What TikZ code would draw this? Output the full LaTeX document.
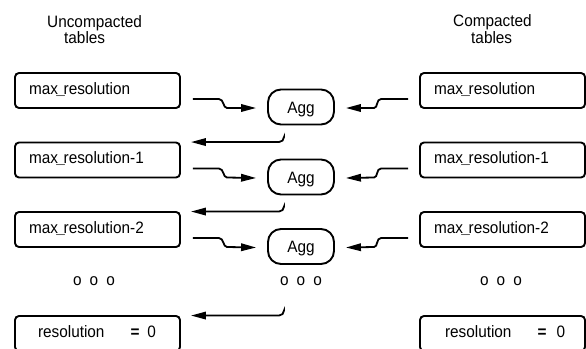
\documentclass[tikz,border=0pt]{standalone}
\usepackage{fontspec}
\setmainfont{Liberation Sans}[FakeStretch=0.93]
\usetikzlibrary{arrows.meta,calc}
\begin{document}
\begin{tikzpicture}[x=1pt,y=-1pt,
  every node/.style={font=\fontsize{16.5pt}{19pt}\selectfont},
  tbl/.style={draw, line width=1.9pt, rounded corners=4pt, minimum width=165pt, minimum height=35pt,
    text width=137pt, inner xsep=14pt, inner ysep=0pt, align=left, text height=12pt, text depth=5pt},
  agg/.style={draw, line width=1.9pt, rounded corners=13pt, minimum width=66pt, minimum height=35pt,
    inner sep=0pt, text height=12pt, text depth=0pt},
  arr/.style={line width=1.8pt, -{Triangle[length=15pt,width=7.5pt]}},
  hdr/.style={anchor=north west, inner sep=0pt, align=left,
    font=\fontsize{16.5pt}{14.7pt}\selectfont},
  lbl/.style={anchor=base, inner sep=0pt}]
\useasboundingbox (0,0) rectangle (586,348);

% headers
\node[hdr] (h1) at (47,15) {Uncompacted\\\hspace*{17pt}tables};
\node[hdr] (h2) at (453,14.5) {Compacted\\\hspace*{18pt}tables};

% left tables
\node[tbl] (L1) at (97.5,90.5) {max\kern-1.5pt\textbf{\_}\kern-1.5pt resolution};
\node[tbl] (L2) at (97.5,160) {max\kern-1.5pt\textbf{\_}\kern-1.5pt resolution-1};
\node[tbl] (L3) at (97.5,229.5) {max\kern-1.5pt\textbf{\_}\kern-1.5pt resolution-2};
\node[tbl] (L4) at (97.5,333.5) {\hspace*{9pt}resolution\hspace{26pt}\textbf{=}\hspace{8pt}0};

% right tables
\node[tbl] (R1) at (502.5,90.5) {max\kern-1.5pt\textbf{\_}\kern-1.5pt resolution};
\node[tbl] (R2) at (502.5,160) {max\kern-1.5pt\textbf{\_}\kern-1.5pt resolution-1};
\node[tbl] (R3) at (502.5,229.5) {max\kern-1.5pt\textbf{\_}\kern-1.5pt resolution-2};
\node[tbl] (R4) at (502.5,333.5) {\hspace*{11pt}resolution\hspace{26pt}\textbf{=}\hspace{10pt}0};

% aggregators
\node[agg] (A1) at (301,107) {Agg};
\node[agg] (A2) at (301,177) {Agg};
\node[agg] (A3) at (301,246.5) {Agg};

% dots
\node[lbl] (D1) at (94,285.5) {o\hspace{8pt}o\hspace{8pt}o};
\node[lbl] (D2) at (301,285.5) {o\hspace{8pt}o\hspace{8pt}o};
\node[lbl] (D3) at (501,285.5) {o\hspace{8pt}o\hspace{8pt}o};

% inputs from the tables
\foreach \i in {1,2,3}{
  \draw[arr] ($(L\i.east)+(12,8.5)$) -- ++(26,0)
     .. controls +(5,0) and +(-4,0) .. ++(8,9) -- ($(A\i.west)+(-11,1)$);
  \draw[arr] ($(R\i.west)+(-11,8.5)$) -- ++(-27,0)
     .. controls +(-5,0) and +(4,0) .. ++(-7,9) -- ($(A\i.east)+(11,1)$);
}

% outputs to the next level
\draw[arr, rounded corners=5pt] ($(A1.south)+(-17,12)$) |- ($(L2.north east)+(10,0.5)$);
\draw[arr, rounded corners=5pt] ($(A2.south)+(-17,12)$) |- ($(L3.north east)+(10,0.5)$);
\coordinate (r3) at (284,311);
\draw[arr, rounded corners=5pt] (r3) |- ($(L4.north east)+(10,0.5)$);
\end{tikzpicture}
\end{document}
